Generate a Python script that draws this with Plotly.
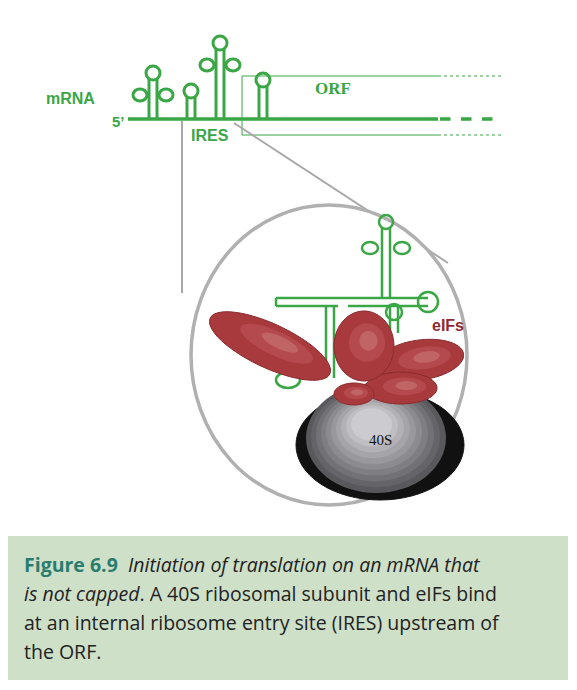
import numpy as np
import plotly.graph_objects as go

GREEN = "#3aa645"
RED = "#a83a3d"
GRAY = "#a8a8a8"

# hairpins on the mRNA: (x, top y, cross?)
hairpin_x = [145, 183, 212, 255]
hairpin_top = [65, 83, 35, 72]
hairpin_cross = [True, False, True, False]

# red eIF blobs: (cx, cy, rx, ry, angle)
blob_cx = [262, 412, 393, 346, 356]
blob_cy = [338, 352, 380, 386, 338]
blob_rx = [66, 44, 36, 20, 30]
blob_ry = [22, 20, 16, 11, 35]
blob_ang = [25, -8, 0, 0, 0]

caption_lines = [
    ("<b><span style='color:#2a7d6e'>Figure 6.9</span></b>  <i>Initiation of translation on an mRNA that</i>"),
    ("<i>is not capped</i>. A 40S ribosomal subunit and eIFs bind"),
    ("at an internal ribosome entry site (IRES) upstream of"),
    ("the ORF."),
]

shapes = []


def line(x0, y0, x1, y1, color=GREEN, w=3, dash="solid"):
    shapes.append(dict(type="line", x0=x0, y0=y0, x1=x1, y1=y1,
                       line=dict(color=color, width=w, dash=dash)))


def circ(cx, cy, rx, ry, fill="rgba(0,0,0,0)", color=GREEN, w=3):
    shapes.append(dict(type="circle", x0=cx - rx, x1=cx + rx, y0=cy - ry, y1=cy + ry,
                       fillcolor=fill, line=dict(color=color, width=w)))


def ellipse_path(cx, cy, rx, ry, ang):
    t = np.linspace(0, 2 * np.pi, 60)
    a = np.radians(ang)
    xs = cx + rx * np.cos(t) * np.cos(a) - ry * np.sin(t) * np.sin(a)
    ys = cy + rx * np.cos(t) * np.sin(a) + ry * np.sin(t) * np.cos(a)
    return "M " + " L ".join(f"{x:.1f},{y:.1f}" for x, y in zip(xs, ys)) + " Z"


def hairpin(x, top, base, cross, s=1.0):
    line(x - 4 * s, base, x - 4 * s, top + 6 * s)
    line(x + 4 * s, base, x + 4 * s, top + 6 * s)
    circ(x, top, 7 * s, 7 * s)
    if cross:
        my = top + 22 * s
        circ(x - 13 * s, my, 7 * s, 6 * s)
        circ(x + 13 * s, my, 7 * s, 6 * s)


# mRNA at the top
line(120, 111, 430, 111, w=3.5)
line(432, 111, 495, 111, w=3.5, dash="dash")
for x, t, c in zip(hairpin_x, hairpin_top, hairpin_cross):
    hairpin(x, t, 111, c)
# ORF box
line(234, 68, 430, 68, w=1)
line(234, 127, 430, 127, w=1)
line(430, 68, 495, 68, w=1, dash="dot")
line(430, 127, 495, 127, w=1, dash="dot")
line(234, 68, 234, 127, w=1)

# zoom lines and circle
line(174, 113, 174, 285, color=GRAY, w=2)
line(226, 115, 440, 255, color=GRAY, w=2)
circ(321, 347, 138, 150, fill="white", color="#b0b0b0", w=3.5)

# 40S subunit
circ(372, 437, 84, 55, fill="#111111", color="#111111", w=1)
for i, g in enumerate(np.linspace(0.35, 0.8, 10)):
    v = int(g * 255)
    circ(368 - i * 0.5, 430 - i * 1.5, 70 - i * 5.5, 55 - i * 4.3, fill=f"rgb({v},{v},{v+4})", color=f"rgb({v},{v},{v+4})", w=0)

# green IRES structure inside
W = 2.5
line(268, 290, 420, 290, w=W)
line(268, 298, 330, 298, w=W)
line(340, 298, 420, 298, w=W)
line(268, 290, 268, 298, w=W)
line(374, 220, 374, 290, w=W)
line(382, 220, 382, 290, w=W)
circ(378, 214, 7, 7, w=W)
circ(362, 240, 8, 6, w=W)
circ(394, 240, 8, 6, w=W)
line(318, 298, 318, 370, w=W)
line(326, 298, 326, 370, w=W)
circ(420, 294, 10, 10, w=W)
line(382, 298, 382, 325, w=W)
line(390, 298, 390, 325, w=W)
circ(386, 304, 8, 8, w=W)
line(295, 360, 295, 372, w=W)
circ(280, 372, 12, 8, w=W)

# eIF blobs
for cx, cy, rx, ry, a in zip(blob_cx, blob_cy, blob_rx, blob_ry, blob_ang):
    shapes.append(dict(type="path", path=ellipse_path(cx, cy, rx, ry, a),
                       fillcolor=RED, line=dict(color="#8a2b2e", width=1)))
    shapes.append(dict(type="path", path=ellipse_path(cx + rx * 0.1, cy - ry * 0.1, rx * 0.6, ry * 0.55, a),
                       fillcolor="#b44a4d", line=dict(width=0)))
    shapes.append(dict(type="path", path=ellipse_path(cx + rx * 0.15, cy - ry * 0.15, rx * 0.3, ry * 0.28, a),
                       fillcolor="#c06466", line=dict(width=0)))

# caption box
shapes.append(dict(type="rect", x0=0, x1=560, y0=528, y1=672, fillcolor="#cfe0c9",
                   line=dict(width=0), layer="below"))

ann = [
    dict(x=62, y=90, text="<b>mRNA</b>", font=dict(color=GREEN, size=16, family="Liberation Sans")),
    dict(x=110, y=113, text="<b>5’</b>", font=dict(color=GREEN, size=15, family="Liberation Sans")),
    dict(x=202, y=127, text="<b>IRES</b>", font=dict(color=GREEN, size=16, family="Liberation Sans")),
    dict(x=325, y=80, text="<b>ORF</b>", font=dict(color=GREEN, size=17, family="Liberation Serif")),
    dict(x=440, y=317, text="<b>eIFs</b>", font=dict(color="#8e2a30", size=16, family="Liberation Sans")),
    dict(x=372, y=432, text="40S", font=dict(color="#111", size=15, family="Liberation Serif")),
]
for i, t in enumerate(caption_lines):
    ann.append(dict(x=14, y=556 + i * 29, text=t, xanchor="left",
                    font=dict(color="#222", size=19.5, family="Open Sans")))
for a in ann:
    a.setdefault("xanchor", "center")
    a.update(xref="x", yref="y", showarrow=False, yanchor="middle")

fig = go.Figure()
fig.update_layout(
    width=577, height=690, margin=dict(l=0, r=0, t=0, b=0),
    plot_bgcolor="white", paper_bgcolor="white",
    xaxis=dict(range=[0, 577], visible=False),
    yaxis=dict(range=[690, 0], visible=False),
    shapes=shapes, annotations=ann, showlegend=False,
)
fig.write_html("out.html")
